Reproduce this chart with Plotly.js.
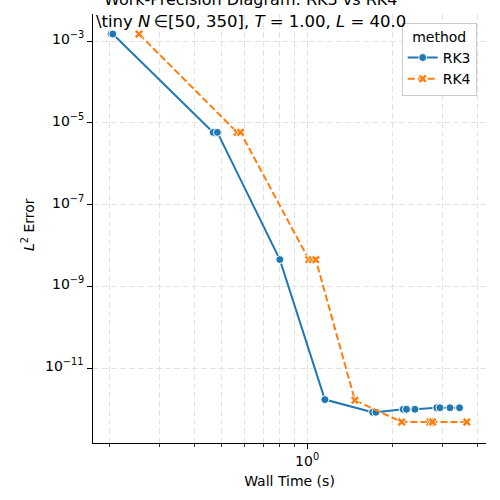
<!DOCTYPE html>
<html>
<head>
<meta charset="utf-8">
<script src="https://cdn.plot.ly/plotly-3.0.1.min.js"></script>
<style>
  html, body { margin: 0; padding: 0; background: #fff; }
  #chart { width: 500px; height: 500px; }
</style>
</head>
<body>
<div id="chart"></div>
<script>
// Wall time (s) and L2 error for each integrator run
const rk3Time  = [0.203, 0.206, 0.466, 0.482, 0.801, 1.155, 1.702, 1.749, 2.183, 2.242, 2.402, 2.866, 2.944, 3.193, 3.450];
const rk3Error = [1.48e-3, 1.48e-3, 5.82e-6, 5.82e-6, 4.5e-9, 1.69e-12, 8.28e-13, 8.28e-13, 9.79e-13, 9.79e-13, 9.79e-13, 1.067e-12, 1.067e-12, 1.067e-12, 1.067e-12];

const rk4Time  = [0.255, 0.566, 0.582, 1.014, 1.043, 1.073, 1.474, 2.156, 2.714, 2.770, 3.66];
const rk4Error = [1.48e-3, 5.82e-6, 5.82e-6, 4.48e-9, 4.48e-9, 4.48e-9, 1.63e-12, 4.79e-13, 4.79e-13, 4.79e-13, 4.79e-13];

const methodNames = ['RK3', 'RK4'];

// Axis ticks
const yTickVals = [1e-11, 1e-9, 1e-7, 1e-5, 1e-3];
const yTickText = ['10<sup>−11</sup>', '10<sup>−9</sup>', '10<sup>−7</sup>', '10<sup>−5</sup>', '10<sup>−3</sup>'];
const xTickVals = [1];
const xTickText = ['10<sup>0</sup>'];
const xMinorVals = [0.2, 0.3, 0.4, 0.5, 0.6, 0.7, 0.8, 0.9, 2, 3, 4];

const FONT = 'DejaVu Sans, Liberation Sans, sans-serif';
const GRID = '#e3e3e3';

const traces = [
  {
    x: rk3Time, y: rk3Error, name: methodNames[0], type: 'scatter', mode: 'lines+markers',
    line: { color: '#1f77b4', width: 2 },
    marker: { symbol: 'circle', size: 8, color: '#1f77b4', line: { color: '#ffffff', width: 1 } }
  },
  {
    x: rk4Time, y: rk4Error, name: methodNames[1], type: 'scatter', mode: 'lines+markers',
    line: { color: '#ff7f0e', width: 2, dash: '7px,3px' },
    marker: { symbol: 'x', size: 8, color: '#ff7f0e', line: { color: '#ffffff', width: 1 } }
  }
];

// plot area: x 93..486 px, y 14..443 px
const L = 93, R = 486, T = 14, B = 443;
const px2paperX = px => (px - L) / (R - L);
const px2paperY = py => (B - py) / (B - T);

// y tick labels as right-aligned annotations placed on the log axis
const yLabelAnnotations = yTickVals.map((v, i) => ({
  text: yTickText[i],
  xref: 'paper', yref: 'y', x: px2paperX(86), y: Math.log10(v),
  xanchor: 'right', yanchor: 'middle', yshift: 3,
  showarrow: false, font: { family: FONT, size: 14, color: '#000' }
}));

const layout = {
  width: 500, height: 500,
  margin: { l: L, r: 500 - R, t: T, b: 500 - B, pad: 0 },
  paper_bgcolor: '#ffffff', plot_bgcolor: '#ffffff',
  font: { family: FONT, size: 14, color: '#000000' },
  showlegend: true,
  xaxis: {
    type: 'log', range: [-0.756, 0.6314],
    tickmode: 'array', tickvals: xTickVals, ticktext: xTickText,
    ticks: 'outside', ticklen: 5, tickwidth: 1, tickcolor: '#000',
    showline: true, linecolor: '#000', linewidth: 1.1, mirror: false,
    showgrid: true, gridcolor: GRID, griddash: '6px,3px', gridwidth: 1,
    zeroline: false,
    tickfont: { family: FONT, size: 14, color: '#000' },
    minor: {
      tickmode: 'array', tickvals: xMinorVals,
      ticks: 'outside', ticklen: 3, tickwidth: 0.8, tickcolor: '#000',
      showgrid: true, gridcolor: GRID, griddash: '6px,3px', gridwidth: 1
    },
    title: { text: 'Wall Time (s)', font: { family: FONT, size: 14, color: '#000' }, standoff: 8 }
  },
  yaxis: {
    type: 'log', range: [-12.834, -2.339],
    tickmode: 'array', tickvals: yTickVals, ticktext: yTickText,
    showticklabels: false,
    ticks: 'outside', ticklen: 5, tickwidth: 1, tickcolor: '#000',
    showline: true, linecolor: '#000', linewidth: 1.1, mirror: false,
    showgrid: true, gridcolor: GRID, griddash: '6px,3px', gridwidth: 1,
    zeroline: false
  },
  legend: {
    x: px2paperX(401.7), y: px2paperY(22.7), xanchor: 'left', yanchor: 'top',
    bgcolor: 'rgba(255,255,255,0.8)', bordercolor: '#cccccc', borderwidth: 1,
    font: { family: FONT, size: 14, color: '#000' },
    title: { text: 'method', side: 'top center', font: { family: FONT, size: 14, color: '#000' } },
    tracegroupgap: 0, itemwidth: 30
  },
  annotations: yLabelAnnotations.concat([
    {
      text: '<i>L</i><sup>2</sup> Error', textangle: -90,
      xref: 'paper', yref: 'paper', x: px2paperX(28), y: px2paperY(225), xanchor: 'center', yanchor: 'middle',
      showarrow: false, font: { family: FONT, size: 14, color: '#000' }
    },
    {
      text: 'Work-Precision Diagram: RK3 vs RK4',
      xref: 'paper', yref: 'paper', x: px2paperX(250.5), y: px2paperY(0), xanchor: 'center', yanchor: 'middle',
      showarrow: false, font: { family: FONT, size: 16, color: '#000' }
    },
    {
      text: '\\tiny <i>N</i>\u2009∈[50, 350], <i>T</i> = 1.00, <i>L</i> = 40.0',
      xref: 'paper', yref: 'paper', x: px2paperX(250.5), y: px2paperY(21), xanchor: 'center', yanchor: 'middle',
      showarrow: false, font: { family: FONT, size: 16.5, color: '#000' }
    }
  ])
};

Plotly.newPlot('chart', traces, layout, { staticPlot: true, displayModeBar: false });
</script>
</body>
</html>
